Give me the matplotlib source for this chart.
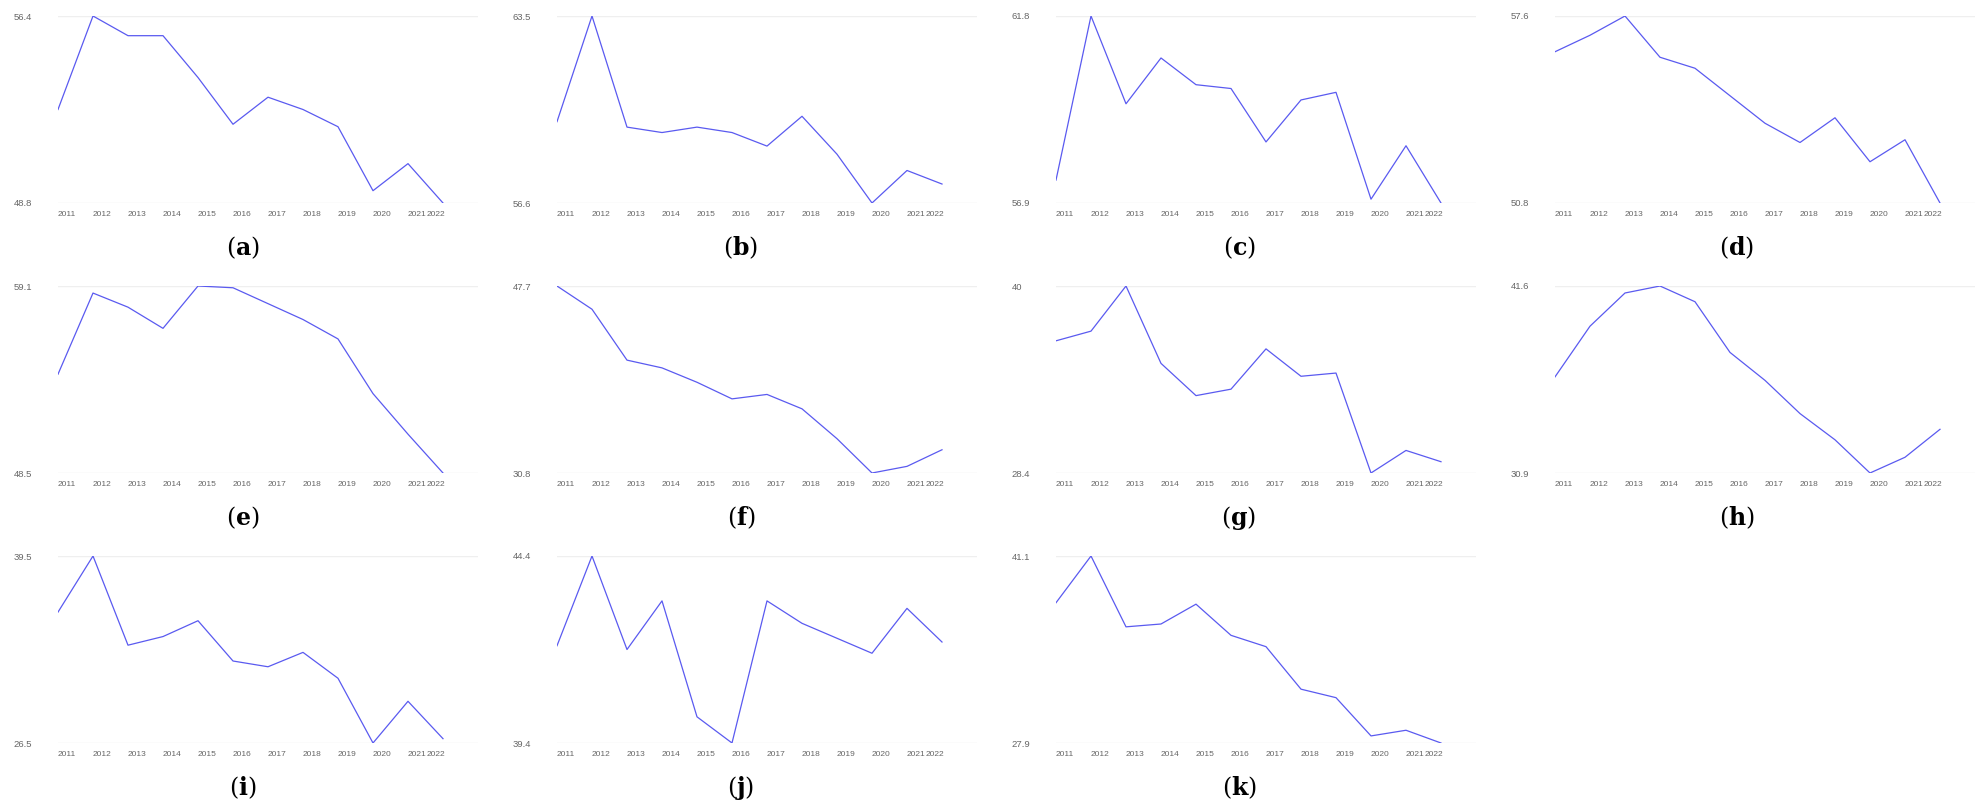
import matplotlib
matplotlib.use("Agg")
import matplotlib.pyplot as plt
from matplotlib.transforms import ScaledTranslation

years = [2011, 2012, 2013, 2014, 2015, 2016, 2017, 2018, 2019, 2020, 2021, 2022]
panel_labels = ["a", "b", "c", "d", "e", "f", "g", "h", "i", "j", "k"]

a_vals = [52.6, 56.4, 55.6, 55.6, 53.9, 52.0, 53.1, 52.6, 51.9, 49.3, 50.4, 48.8]
b_vals = [59.6, 63.5, 59.4, 59.2, 59.4, 59.2, 58.7, 59.8, 58.4, 56.6, 57.8, 57.3]
c_vals = [57.5, 61.8, 59.5, 60.7, 60.0, 59.9, 58.5, 59.6, 59.8, 57.0, 58.4, 56.9]
d_vals = [56.3, 56.9, 57.6, 56.1, 55.7, 54.7, 53.7, 53.0, 53.9, 52.3, 53.1, 50.8]
e_vals = [54.1, 58.7, 57.9, 56.7, 59.1, 59.0, 58.1, 57.2, 56.1, 53.0, 50.7, 48.5]
f_vals = [47.7, 45.6, 41.0, 40.3, 39.0, 37.5, 37.9, 36.6, 33.9, 30.8, 31.4, 32.9]
g_vals = [36.6, 37.2, 40.0, 35.2, 33.2, 33.6, 36.1, 34.4, 34.6, 28.4, 29.8, 29.1]
h_vals = [36.4, 39.3, 41.2, 41.6, 40.7, 37.8, 36.2, 34.3, 32.8, 30.9, 31.8, 33.4]
i_vals = [35.6, 39.5, 33.3, 33.9, 35.0, 32.2, 31.8, 32.8, 31.0, 26.5, 29.4, 26.8]
j_vals = [42.0, 44.4, 41.9, 43.2, 40.1, 39.4, 43.2, 42.6, 42.2, 41.8, 43.0, 42.1]
k_vals = [37.8, 41.1, 36.1, 36.3, 37.7, 35.5, 34.7, 31.7, 31.1, 28.4, 28.8, 27.9]

series = [a_vals, b_vals, c_vals, d_vals, e_vals, f_vals, g_vals, h_vals,
          i_vals, j_vals, k_vals]

plt.rcParams["font.family"] = ["Liberation Sans", "DejaVu Sans"]
plt.rcParams["mathtext.fontset"] = "dejavuserif"

W, H = 1977, 805
fig = plt.figure(figsize=(W / 100, H / 100), dpi=100)

line_color = "#5a5af0"
tick_color = "#666666"

for n, vals in enumerate(series):
    row, col = divmod(n, 4)
    left = 58 + 499 * col
    top = 16 + 270 * row
    ax = fig.add_axes([left / W, 1 - (top + 187) / H, 420 / W, 187 / H])
    ax.plot(years, vals, color=line_color, lw=0.9)
    lo, hi = min(vals), max(vals)
    ax.set_xlim(2011, 2023)
    ax.set_ylim(lo, hi)
    for s in ax.spines.values():
        s.set_visible(False)
    ax.set_yticks([lo, hi])
    ax.set_yticklabels(["%g" % lo, "%g" % hi])
    ax.yaxis.grid(True, color="#efefef", lw=1)
    ax.set_axisbelow(True)
    ax.tick_params(axis="y", length=0, pad=32, labelsize=6.8, labelcolor=tick_color)
    for t in ax.get_yticklabels():
        t.set_horizontalalignment("left")
    ax.set_xticks(years)
    ax.set_xticklabels([str(y) for y in years])
    ax.tick_params(axis="x", length=0, pad=6, labelsize=6.0, labelcolor=tick_color)
    xl = ax.get_xticklabels()
    for t in xl[:-1]:
        t.set_horizontalalignment("left")
    xl[-1].set_horizontalalignment("right")
    # nudge the last year a bit to the right so it just touches 2021
    xl[-1].set_transform(xl[-1].get_transform() + ScaledTranslation(2.5 / 100, 0, fig.dpi_scale_trans))

    cx = (243 + 498 * col) / W
    cy = 1 - (248 + 270 * row) / H
    fig.text(cx, cy, "(" + r"$\mathbf{%s}$" % panel_labels[n] + ")",
             ha="center", va="center", fontsize=17, family="DejaVu Serif")

fig.savefig("out.png", dpi=100, facecolor="white")
